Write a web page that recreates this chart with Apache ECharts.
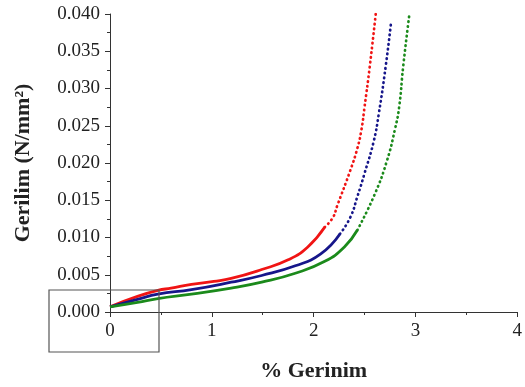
<!DOCTYPE html>
<html>
<head>
<meta charset="utf-8">
<script src="https://cdn.jsdelivr.net/npm/echarts@6/dist/echarts.min.js"></script>
<style>
  html, body { margin: 0; padding: 0; background: #fff; }
  #chart { width: 525px; height: 387px; }
</style>
</head>
<body>
<div id="chart"></div>
<script>
// values (strain %, stress N/mm2)
const redStrain = [0, 0.27, 0.47, 0.6, 0.8, 1.02, 1.19, 1.49, 1.75, 1.94, 2.11, 2.19, 2.23, 2.36, 2.43, 2.47, 2.50, 2.55, 2.61];
const redStress = [0.0007, 0.0021, 0.0029, 0.0032, 0.0037, 0.0041, 0.0045, 0.0057, 0.0070, 0.0087, 0.0114, 0.0127, 0.0142, 0.0190, 0.0220, 0.0245, 0.0275, 0.0328, 0.0400];

const blueStrain = [0, 0.27, 0.47, 0.8, 1.19, 1.49, 1.82, 2.07, 2.26, 2.36, 2.43, 2.50, 2.59, 2.64, 2.71, 2.76];
const blueStress = [0.0007, 0.0017, 0.0024, 0.0030, 0.0040, 0.0049, 0.0062, 0.0078, 0.0105, 0.0127, 0.0155, 0.0186, 0.0229, 0.0266, 0.0332, 0.0388];

const greenStrain = [0, 0.27, 0.47, 0.8, 1.19, 1.49, 1.82, 2.11, 2.30, 2.43, 2.60, 2.72, 2.80, 2.84, 2.88, 2.94];
const greenStress = [0.0007, 0.0013, 0.0018, 0.0024, 0.0032, 0.0040, 0.0052, 0.0068, 0.0087, 0.0110, 0.0158, 0.0203, 0.0246, 0.0275, 0.0330, 0.0399];

const xTicks = [0, 1, 2, 3, 4];
const yTicks = [0, 0.005, 0.01, 0.015, 0.02, 0.025, 0.03, 0.035, 0.04];

const FONT = "'Liberation Serif', 'Times New Roman', serif";
const AXIS_COLOR = '#333';

// the steep part of each curve shows up as separate dots in the original
function splitSeries(xs, ys, color) {
  const pts = xs.map((x, i) => [x, ys[i]]);
  let k = ys.findIndex((y) => y >= 0.0105);
  if (k < 0) k = pts.length - 1;
  const base = {
    type: 'line',
    smooth: 0.5,
    showSymbol: false,
    symbol: 'none',
    silent: true,
  };
  return [
    { ...base, data: pts.slice(0, k + 1), lineStyle: { color: color, width: 2.8 } },
    { ...base, data: pts.slice(k), lineStyle: { color: color, width: 2.7, type: [0.5, 4.3], cap: 'round' } },
  ];
}

const chart = echarts.init(document.getElementById('chart'));

chart.setOption({
  animation: false,
  grid: { left: 110, right: 3, top: 14, bottom: 71 },
  xAxis: {
    type: 'value',
    min: xTicks[0],
    max: xTicks[xTicks.length - 1],
    interval: 1,
    name: '% Gerinim',
    nameLocation: 'middle',
    nameGap: 48,
    nameTextStyle: { fontFamily: FONT, fontWeight: 'bold', fontSize: 22, color: '#222' },
    axisLine: { lineStyle: { color: AXIS_COLOR, width: 1 } },
    axisTick: { inside: false, length: 5, lineStyle: { color: AXIS_COLOR } },
    minorTick: { show: true, splitNumber: 2, length: 3, lineStyle: { color: AXIS_COLOR } },
    axisLabel: { fontFamily: FONT, fontSize: 19, color: '#222', margin: 10 },
    splitLine: { show: false },
  },
  yAxis: {
    type: 'value',
    min: yTicks[0],
    max: yTicks[yTicks.length - 1],
    interval: 0.005,
    name: 'Gerilim (N/mm²)',
    nameLocation: 'middle',
    nameRotate: 90,
    nameGap: 76,
    nameTextStyle: { fontFamily: FONT, fontWeight: 'bold', fontSize: 22, color: '#222' },
    axisLine: { show: true, lineStyle: { color: AXIS_COLOR, width: 1 } },
    axisTick: { show: true, inside: false, length: 5, lineStyle: { color: AXIS_COLOR } },
    minorTick: { show: true, splitNumber: 2, length: 3, lineStyle: { color: AXIS_COLOR } },
    axisLabel: {
      fontFamily: FONT, fontSize: 19, color: '#222', margin: 10,
      formatter: (v) => v.toFixed(3),
    },
    splitLine: { show: false },
  },
  graphic: [
    {
      type: 'rect',
      shape: { x: 49, y: 290, width: 110, height: 62 },
      style: { fill: 'none', stroke: '#555', lineWidth: 1.2 },
      z: 10,
    },
  ],
  series: [
    ...splitSeries(redStrain, redStress, '#f01414'),
    ...splitSeries(blueStrain, blueStress, '#16168a'),
    ...splitSeries(greenStrain, greenStress, '#1b8a1b'),
  ],
});
</script>
</body>
</html>
